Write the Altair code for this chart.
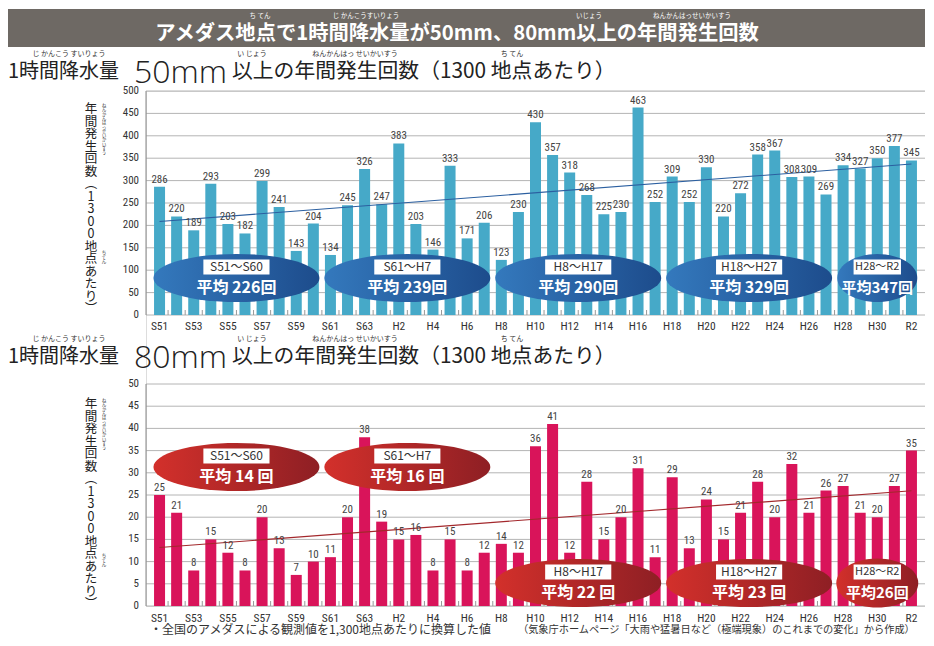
import altair as alt
import pandas as pd

# ---------------- data ----------------
years = ["S51", "S52", "S53", "S54", "S55", "S56", "S57", "S58", "S59", "S60",
         "S61", "S62", "S63", "H1", "H2", "H3", "H4", "H5", "H6", "H7",
         "H8", "H9", "H10", "H11", "H12", "H13", "H14", "H15", "H16", "H17",
         "H18", "H19", "H20", "H21", "H22", "H23", "H24", "H25", "H26", "H27",
         "H28", "H29", "H30", "R1", "R2"]
count50 = [286, 220, 189, 293, 203, 182, 299, 241, 143, 204,
           134, 245, 326, 247, 383, 203, 146, 333, 171, 206,
           123, 230, 430, 357, 318, 268, 225, 230, 463, 252,
           309, 252, 330, 220, 272, 358, 367, 308, 309, 269,
           334, 327, 350, 377, 345]
count80 = [25, 21, 8, 15, 12, 8, 20, 13, 7, 10,
           11, 20, 38, 19, 15, 16, 8, 15, 8, 12,
           14, 12, 36, 41, 12, 28, 15, 20, 31, 11,
           29, 13, 24, 15, 21, 28, 20, 32, 21, 26,
           27, 21, 20, 27, 35]
tick_years = ["S51", "S53", "S55", "S57", "S59", "S61", "S63", "H2", "H4", "H6", "H8",
              "H10", "H12", "H14", "H16", "H18", "H20", "H22", "H24", "H26", "H28", "H30", "R2"]
period_names = ["S51～S60", "S61～H7", "H8～H17", "H18～H27", "H28～R2"]
period_first = ["S51", "S61", "H8", "H18", "H28"]
period_last = ["S60", "H7", "H17", "H27", "R2"]
avg50_text = ["平均 226回", "平均 239回", "平均 290回", "平均 329回", "平均347回"]
avg80_text = ["平均 14 回", "平均 16 回", "平均 22 回", "平均 23 回", "平均26回"]
yticks50 = [0, 50, 100, 150, 200, 250, 300, 350, 400, 450, 500]
yticks80 = [0, 5, 10, 15, 20, 25, 30, 35, 40, 45, 50]

# ---------------- layout / style ----------------
W, H = 779, 515
TOP_H = 224
BOT_Y0 = 293
N = len(years)
STEP = W / N
JP = "Noto Sans CJK JP"
NARROW = "Liberation Sans Narrow, Roboto Condensed, DejaVu Sans, sans-serif"
BLUE = "#46a9c8"
PINK = "#d9145a"
GRID = "#b4b4b4"

df = pd.DataFrame({"idx": list(range(N)), "year": years,
                   "v50": count50, "v80": count80})
ticks_df = pd.DataFrame({"year": tick_years,
                         "idx": [years.index(t) for t in tick_years]})
bound_df = pd.DataFrame({"b": [i + 0.5 for i in range(N - 1)]})

xs = alt.Scale(domain=[-0.5, N - 0.5], nice=False, zero=False)
ys50 = alt.Scale(domain=[0, 500], range=[TOP_H, 0], nice=False)
ys80 = alt.Scale(domain=[0, 50], range=[H, BOT_Y0], nice=False)

big_ell = "M-1,0A1,0.29,0,1,1,1,0A1,0.29,0,1,1,-1,0Z"
small_ell = "M-1,0A1,0.6,0,1,1,1,0A1,0.6,0,1,1,-1,0Z"


def periods(avg_text, ypix, widths):
    rows = []
    for k in range(len(period_names)):
        a, b = years.index(period_first[k]), years.index(period_last[k])
        small = k == len(period_names) - 1
        cx = (a + b) / 2
        bw = 48 if small else 67
        rows.append({"cx": cx, "name": period_names[k], "avg": avg_text[k],
                     "ypx": ypix[k],
                     "by1": ypix[k] - 11 - 7.5, "by2": ypix[k] - 11 + 7.5,
                     "bx1": cx - bw / 2 / STEP, "bx2": cx + bw / 2 / STEP,
                     "eshape": small_ell if small else big_ell,
                     "esize": widths[k] ** 2,
                     "afs": 15 if small else 16,
                     "nfs": 11 if small else 12})
    return pd.DataFrame(rows)


p50 = periods(avg50_text, [187, 187, 187, 187, 187], [166, 166, 166, 166, 80])
p80 = periods(avg80_text, [376, 376, 492, 492, 492], [166, 166, 166, 166, 82])

X = alt.X("idx:Q", scale=xs, axis=None)


def grid(vals, scale):
    d = pd.DataFrame({"t": vals})
    g = alt.Chart(d).mark_rule(color=GRID, strokeWidth=1).encode(
        y=alt.Y("t:Q", scale=scale, axis=None), x=alt.value(0), x2=alt.value(W))
    lab = alt.Chart(d).mark_text(align="right", baseline="middle", fontSize=11,
                                 font=NARROW, color="#333").encode(
        y=alt.Y("t:Q", scale=scale, axis=None), x=alt.value(-7), text="t:Q")
    return g, lab


def panel(field, scale, color, trend_color, pdf, grad, xlab_y, base_y):
    bars = alt.Chart(df).mark_bar(orient="vertical", size=11, color=color).encode(
        x=X, y=alt.Y(f"{field}:Q", scale=scale, axis=None))
    trend = alt.Chart(df).transform_regression("idx", field).mark_line(
        color=trend_color, strokeWidth=1.1).encode(
        x=X, y=alt.Y(f"{field}:Q", scale=scale, axis=None))
    vals = alt.Chart(df).mark_text(baseline="bottom", dy=-2, fontSize=11,
                                   font=NARROW, color="#444").encode(
        x=X, y=alt.Y(f"{field}:Q", scale=scale, axis=None), text=f"{field}:Q")
    bnd = alt.Chart(bound_df).mark_rule(color="#999", strokeWidth=1).encode(
        x=alt.X("b:Q", scale=xs, axis=None), y=alt.value(base_y - 5), y2=alt.value(base_y))
    xl = alt.Chart(ticks_df).mark_text(baseline="middle", fontSize=11.5, font=NARROW,
                                       color="#333").encode(
        x=X, y=alt.value(xlab_y), text="year:N")
    ell = alt.Chart(pdf).mark_point(filled=True, fill=grad, opacity=1, strokeWidth=0).encode(
        x=alt.X("cx:Q", scale=xs, axis=None),
        y=alt.Y("ypx:Q", scale=None),
        shape=alt.Shape("eshape:N", scale=None),
        size=alt.Size("esize:Q", scale=None))
    box = alt.Chart(pdf).mark_rect(color="white", opacity=1).encode(
        x=alt.X("bx1:Q", scale=xs, axis=None), x2="bx2:Q",
        y=alt.Y("by1:Q", scale=None), y2="by2:Q")
    name = alt.Chart(pdf).mark_text(baseline="middle", color="#333", font=JP,
                                    yOffset=-11).encode(
        x=alt.X("cx:Q", scale=xs, axis=None), y=alt.Y("ypx:Q", scale=None),
        text="name:N", size=alt.Size("nfs:Q", scale=None))
    avg = alt.Chart(pdf).mark_text(baseline="middle", color="white", font=JP,
                                   fontWeight="bold", yOffset=10).encode(
        x=alt.X("cx:Q", scale=xs, axis=None), y=alt.Y("ypx:Q", scale=None),
        text="avg:N", size=alt.Size("afs:Q", scale=None))
    return [bars, trend, vals, bnd, xl, ell, box, name, avg]


blue_grad = {"gradient": "linear", "x1": 0, "x2": 1, "y1": 0, "y2": 0,
             "stops": [{"offset": 0, "color": "#3479bd"}, {"offset": 1, "color": "#1d4c8c"}]}
red_grad = {"gradient": "linear", "x1": 0, "x2": 1, "y1": 0, "y2": 0,
            "stops": [{"offset": 0, "color": "#d3302b"}, {"offset": 1, "color": "#8e1f24"}]}

g50, l50 = grid(yticks50, ys50)
g80, l80 = grid(yticks80, ys80)

one = pd.DataFrame({"a": [0]})
axis_lines = alt.Chart(one).mark_rule(color="#888").encode(
    x=alt.value(0), y=alt.value(0), y2=alt.value(TOP_H))
axis_lines2 = alt.Chart(one).mark_rule(color="#888").encode(
    x=alt.value(0), y=alt.value(BOT_Y0), y2=alt.value(H))


def txt(s, x, y, size, color="#222", align="left", weight="normal", font=JP,
        baseline="middle", line_height=None):
    kw = dict(align=align, baseline=baseline, fontSize=size, color=color,
              fontWeight=weight, font=font)
    if line_height is not None:
        kw["lineBreak"] = "\n"
        kw["lineHeight"] = line_height
    return alt.Chart(one).mark_text(**kw).encode(
        x=alt.value(x), y=alt.value(y), text=alt.value(s))


title_bar = alt.Chart(one).mark_rect(color="#6e6964").encode(
    x=alt.value(-140), x2=alt.value(W + 2), y=alt.value(-82), y2=alt.value(-44))

texts = [
    txt("アメダス地点で1時間降水量が50mm、80mm以上の年間発生回数", 311, -57, 20.3,
        color="white", align="center", weight="bold"),
    txt("ち てん", 114, -75, 6.5, color="white", align="center"),
    txt("じ かんこうすいりょう", 220, -75, 6.5, color="white", align="center"),
    txt("いじょう", 443, -75, 6.5, color="white", align="center"),
    txt("ねんかんはっせいかいすう", 546, -75, 6.5, color="white", align="center"),
]
for dy, mm in [(0, "50mm"), (285, "80mm")]:
    texts += [
        txt("1時間降水量", -138, -19 + dy, 20),
        txt(mm, -12, -18 + dy, 32, font="Open Sans, Noto Sans CJK JP", weight=300),
        txt("以上の年間発生回数（1300 地点あたり）", 86, -19 + dy, 20.8),
        txt("じ かんこう すいりょう", -77, -37 + dy, 7, color="#333", align="center"),
        txt("い じょう", 106, -37 + dy, 7, color="#333", align="center"),
        txt("ねんかんはっ せいかいすう", 209, -37 + dy, 7, color="#333", align="center"),
        txt("ち てん", 366, -37 + dy, 7, color="#333", align="center"),
    ]
vert = "\n".join(list("年間発生回数") + ["︵", "1", "3", "0", "0"] + list("地点あたり") + ["︶"])
ruby_v = "\n".join(list("ねんかんはっせいかいすう"))
for y0, ry in [(12, 159), (307, 462)]:
    texts += [
        txt(vert, -55, y0, 12.5, align="center", baseline="top", line_height=12.5),
        txt(ruby_v, -42, y0 + 1, 4.2, color="#333", align="center", baseline="top",
            line_height=4.3),
        txt("ち\nて\nん", -42, ry, 4.5, color="#333", align="center", baseline="top",
            line_height=4.6),
    ]
texts += [
    txt("・全国のアメダスによる観測値を1,300地点あたりに換算した値", 4, 539, 12, color="#333"),
    txt("（気象庁ホームページ「大雨や猛暑日など（極端現象）のこれまでの変化」から作成）",
        372, 539, 10.2, color="#333"),
]

layers = ([title_bar, g50, g80, axis_lines, axis_lines2, l50, l80]
          + panel("v50", ys50, BLUE, "#2b5fa0", p50, blue_grad, 236, TOP_H)
          + panel("v80", ys80, PINK, "#a3282c", p80, red_grad, 528, H)
          + texts)

chart = alt.layer(*layers).resolve_scale(y="independent").properties(
    width=W, height=H,
    autosize=alt.AutoSizeParams(type="none"),
    padding={"left": 138, "top": 83, "right": 0, "bottom": 31},
).configure_view(stroke=None).configure(background="white")

chart.save("out.html", embed_options={"renderer": "svg", "actions": False})
